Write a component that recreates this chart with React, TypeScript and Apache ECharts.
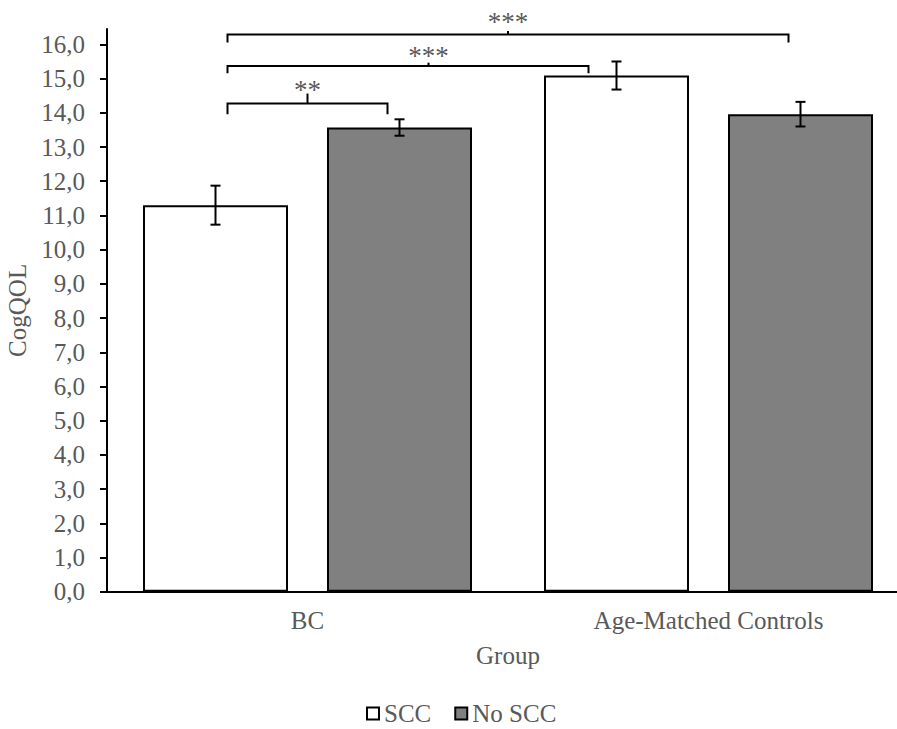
import React, { useEffect, useRef } from "react";
import * as echarts from "echarts";

// ---- data ----
const categories = ["BC", "Age-Matched Controls"];
const seriesNames = ["SCC", "No SCC"];
const sccMeans = [11.3, 15.09];
const noSccMeans = [13.57, 13.96];
const sccErr = [0.57, 0.41];
const noSccErr = [0.24, 0.36];
const yTicks = [0, 1, 2, 3, 4, 5, 6, 7, 8, 9, 10, 11, 12, 13, 14, 15, 16];
// brackets: [fromCategory, fromSeries, toCategory, toSeries, level]
const bracketPairs = [
  [0, 0, 0, 1, 14.27],
  [0, 0, 1, 0, 15.37],
  [0, 0, 1, 1, 16.29],
];
const bracketLabels = ["**", "***", "***"];

// ---- styles ----
const FONT = "'Liberation Serif', 'Times New Roman', serif";
const TEXT = "#595959";
const FS = 25;
const BAR_W = 145;
const BAR_GAP_PX = 39;
const HALF = (BAR_W + BAR_GAP_PX) / 2;
const bracketInsetL = [12, 12, 12];
const bracketInsetR = [12, 28, 12];
const bracketLegPx = [10.6, 7.3, 8];
const bracketTickPx = [10, 3.3, 3.4];
const bracketTickShift = [0, 20.5, 0];
const bracketLabelPx = [13.5, 9.5, 12.5];

export default function App() {
  const ref = useRef<HTMLDivElement>(null);
  useEffect(() => {
    document.body.style.margin = "0";
    if (!ref.current) return;
    const chart = echarts.init(ref.current, undefined, { renderer: "svg" });
    const means = [sccMeans, noSccMeans];
    const errs = [sccErr, noSccErr];
    const errData = (s: number) =>
      categories.map((_, i) => [i, means[s][i] - errs[s][i], means[s][i] + errs[s][i]]);
    const errSeries = (s: number) => ({
      type: "custom",
      name: "err" + s,
      coordinateSystem: "cartesian2d",
      encode: { x: 0, y: [1, 2] },
      z: 5,
      silent: true,
      data: errData(s),
      renderItem: (params: any, api: any) => {
        const lo = api.coord([api.value(0), api.value(1)]);
        const hi = api.coord([api.value(0), api.value(2)]);
        const x = lo[0] + (s === 0 ? -HALF : HALF);
        const st = { stroke: "#000", lineWidth: 2 };
        return {
          type: "group",
          children: [
            { type: "line", shape: { x1: x, y1: hi[1], x2: x, y2: lo[1] }, style: st },
            { type: "line", shape: { x1: x - 5, y1: hi[1], x2: x + 5, y2: hi[1] }, style: st },
            { type: "line", shape: { x1: x - 5, y1: lo[1], x2: x + 5, y2: lo[1] }, style: st },
          ],
        };
      },
    });

    chart.setOption({
      animation: false,
      textStyle: { fontFamily: FONT },
      grid: {
        left: 107,
        right: -12,
        top: 29,
        bottom: 137.3,
        containLabel: false,
        outerBoundsMode: "none",
      },
      legend: {
        data: seriesNames,
        left: 361,
        top: 696,
        itemWidth: 12,
        itemHeight: 12,
        itemGap: 23,
        icon: "rect",
        textStyle: { fontSize: FS, color: TEXT, fontFamily: FONT },
      },
      xAxis: {
        type: "category",
        data: categories,
        name: "Group",
        nameLocation: "middle",
        nameGap: 51,
        nameTextStyle: { fontSize: FS, color: TEXT, fontFamily: FONT },
        axisLine: { lineStyle: { color: "#000", width: 2 } },
        axisTick: { show: false },
        axisLabel: { fontSize: FS, color: TEXT, margin: 16, fontFamily: FONT },
        splitLine: { show: false },
      },
      yAxis: {
        type: "value",
        min: 0,
        max: 16.45,
        name: "CogQOL",
        nameLocation: "middle",
        nameGap: 74,
        nameTextStyle: { fontSize: FS, color: TEXT, fontFamily: FONT },
        axisLine: { show: true, lineStyle: { color: "#000", width: 2 } },
        axisTick: {
          show: true,
          length: 7,
          lineStyle: { color: "#000", width: 2 },
          customValues: yTicks,
        },
        axisLabel: {
          fontSize: FS,
          color: TEXT,
          margin: 22,
          fontFamily: FONT,
          customValues: yTicks,
          formatter: (v: number) => v.toFixed(1).replace(".", ","),
        },
        splitLine: { show: false },
      },
      series: [
        {
          type: "bar",
          name: seriesNames[0],
          data: sccMeans,
          barWidth: BAR_W,
          barGap: (BAR_GAP_PX / BAR_W) * 100 + "%",
          itemStyle: { color: "#ffffff", borderColor: "#000", borderWidth: 2 },
        },
        {
          type: "bar",
          name: seriesNames[1],
          data: noSccMeans,
          barWidth: BAR_W,
          barGap: (BAR_GAP_PX / BAR_W) * 100 + "%",
          itemStyle: { color: "#808080", borderColor: "#000", borderWidth: 2 },
        },
        errSeries(0),
        errSeries(1),
        {
          type: "custom",
          name: "brackets",
          coordinateSystem: "cartesian2d",
          encode: { x: 0, y: 4 },
          z: 6,
          silent: true,
          clip: false,
          data: bracketPairs,
          renderItem: (params: any, api: any) => {
            const i = params.dataIndex;
            const lvl = api.value(4);
            const a = api.coord([api.value(0), lvl]);
            const b = api.coord([api.value(2), lvl]);
            const x1 = a[0] + (api.value(1) === 0 ? -HALF : HALF) + bracketInsetL[i];
            const x2 = b[0] + (api.value(3) === 0 ? -HALF : HALF) - bracketInsetR[i];
            const y = a[1];
            const xm = (x1 + x2) / 2 + bracketTickShift[i];
            const st = { stroke: "#000", lineWidth: 2, fill: null };
            return {
              type: "group",
              children: [
                {
                  type: "polyline",
                  shape: { points: [[x1, y + bracketLegPx[i]], [x1, y], [x2, y], [x2, y + bracketLegPx[i]]] },
                  style: st,
                },
                { type: "line", shape: { x1: xm, y1: y, x2: xm, y2: y - bracketTickPx[i] }, style: st },
                {
                  type: "text",
                  x: xm,
                  y: y - bracketLabelPx[i],
                  style: {
                    text: bracketLabels[i],
                    fill: TEXT,
                    fontSize: 27,
                    fontFamily: FONT,
                    align: "center",
                    verticalAlign: "middle",
                  },
                },
              ],
            };
          },
        },
      ],
    });
    return () => chart.dispose();
  }, []);
  return <div ref={ref} style={{ width: 897, height: 729 }} />;
}
